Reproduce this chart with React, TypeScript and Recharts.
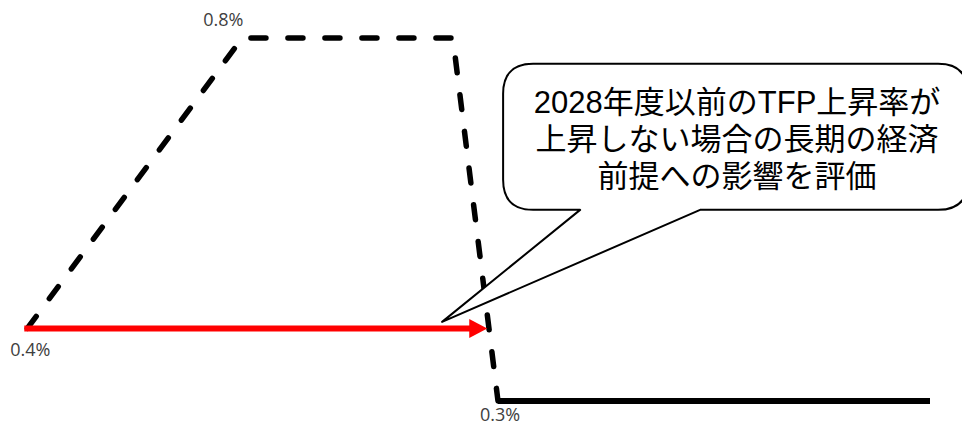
import React from "react";
import { LineChart, Line, XAxis, YAxis, ReferenceDot } from "recharts";

// Dashed path (TFP growth before adjustment)
const dashedX = [0, 5, 9.9, 10.95];
const dashedY = [0.4, 0.8, 0.8, 0.3];
// Solid long-run line
const solidX = [10.95, 21];
const solidY = [0.3, 0.3];
// Red arrow (no rise in TFP growth)
const arrowX = [-0.07, 10.45];
const arrowY = [0.4, 0.4];
const arrowTipX = 10.7;
const arrowTipY = 0.4;
// Value labels
const labelX = [5, -0.07, 10.95];
const labelY = [0.8, 0.4, 0.3];
const labelText = ["0.8%", "0.4%", "0.3%"];
// Callout
const calloutTipX = 9.65;
const calloutTipY = 0.409;
const calloutLines = [
  "2028年度以前のTFP上昇率が",
  "上昇しない場合の長期の経済",
  "前提への影響を評価",
];

const dashedData = dashedX.map((x, i) => ({ x, y: dashedY[i] }));
const solidData = solidX.map((x, i) => ({ x, y: solidY[i] }));
const arrowData = arrowX.map((x, i) => ({ x, y: arrowY[i] }));

const labelOffsets = [
  { dx: -19, dy: 6 - 18 },
  { dx: 6, dy: 6 + 22 },
  { dx: 2, dy: 6 + 14 },
];

const ArrowHead = (props: any) => {
  const { cx, cy } = props;
  return (
    <path
      d={`M${cx},${cy} L${cx - 18},${cy - 9.5} L${cx - 18},${cy + 9.5} Z`}
      fill="#FF0000"
    />
  );
};

const Callout = (props: any) => {
  const { cx, cy } = props;
  const L = cx + 61;
  const R = cx + 526;
  const T = cy - 258;
  const B = cy - 112;
  const r = 30;
  const t1 = cx + 138;
  const t2 = cx + 258;
  const d = [
    `M${L + r},${T}`,
    `L${R - r},${T}`,
    `Q${R},${T} ${R},${T + r}`,
    `L${R},${B - r}`,
    `Q${R},${B} ${R - r},${B}`,
    `L${t2},${B}`,
    `L${cx},${cy}`,
    `L${t1},${B}`,
    `L${L + r},${B}`,
    `Q${L},${B} ${L},${B - r}`,
    `L${L},${T + r}`,
    `Q${L},${T} ${L + r},${T}`,
    "Z",
  ].join(" ");
  const textX = cx + 295;
  const lineYs = [-219, -182, -145];
  return (
    <g>
      <path d={d} fill="#FFFFFF" stroke="#000000" strokeWidth={2} strokeLinejoin="round" />
      {calloutLines.map((s, i) => (
        <text
          key={i}
          x={textX}
          y={cy + lineYs[i]}
          textAnchor="middle"
          dominantBaseline="central"
          fontFamily="'Liberation Sans', 'Noto Sans CJK JP', sans-serif"
          fontSize={31}
          fill="#000000"
        >
          {s}
        </text>
      ))}
    </g>
  );
};

const makeLabel = (i: number) => (props: any) => {
  const { cx, cy } = props;
  return (
    <text
      x={cx + labelOffsets[i].dx}
      y={cy + labelOffsets[i].dy}
      textAnchor="middle"
      fontFamily="'Open Sans', sans-serif"
      fontSize={18}
      fill="#404040"
    >
      {labelText[i]}
    </text>
  );
};

export default function App() {
  return (
    <div style={{ width: 962, height: 419 }}>
      <LineChart
        width={962}
        height={419}
        margin={{ top: 30, right: 40, bottom: 26, left: 15 }}
      >
        <XAxis type="number" dataKey="x" domain={[-0.1, 21]} hide />
        <YAxis type="number" dataKey="y" domain={[0.3, 0.8]} hide />
        <Line
          data={dashedData}
          dataKey="y"
          stroke="#000000"
          strokeWidth={5.5}
          strokeDasharray="15 22"
          strokeLinecap="round"
          strokeLinejoin="round"
          dot={false}
          activeDot={false}
          type="linear"
          isAnimationActive={false}
        />
        <Line
          data={solidData}
          dataKey="y"
          stroke="#000000"
          strokeWidth={6}
          strokeLinecap="butt"
          dot={false}
          activeDot={false}
          type="linear"
          isAnimationActive={false}
        />
        <Line
          data={arrowData}
          dataKey="y"
          stroke="#FF0000"
          strokeWidth={6}
          strokeLinecap="butt"
          dot={false}
          activeDot={false}
          type="linear"
          isAnimationActive={false}
        />
        <ReferenceDot x={arrowTipX} y={arrowTipY} r={0} shape={ArrowHead} />
        <ReferenceDot x={calloutTipX} y={calloutTipY} r={0} shape={Callout} />
        {labelText.map((t, i) => (
          <ReferenceDot key={t} x={labelX[i]} y={labelY[i]} r={0} shape={makeLabel(i)} />
        ))}
      </LineChart>
    </div>
  );
}
